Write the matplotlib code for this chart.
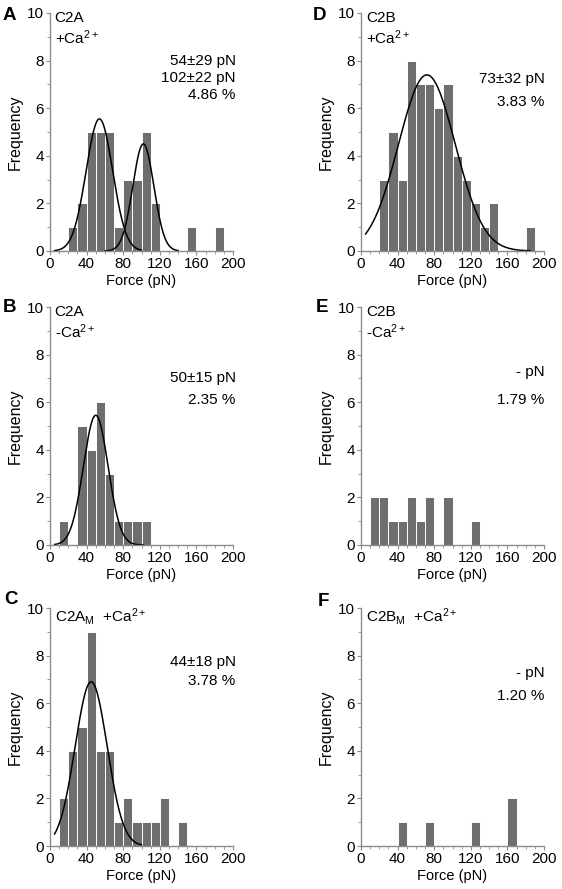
import numpy as np
import matplotlib.pyplot as plt
from matplotlib.ticker import MultipleLocator

plt.rcParams['font.family'] = ['Liberation Sans', 'DejaVu Sans']
plt.rcParams['mathtext.fontset'] = 'custom'
plt.rcParams['mathtext.rm'] = 'Liberation Sans'
plt.rcParams['mathtext.it'] = 'Liberation Sans:italic'

# histogram bins (left edges, pN) and counts per panel
bin_left = np.arange(0, 200, 10)
counts_A = [0, 0, 1, 2, 5, 5, 5, 1, 3, 3, 5, 2, 0, 0, 0, 1, 0, 0, 1, 0]
counts_B = [0, 1, 0, 5, 4, 6, 3, 1, 1, 1, 1, 0, 0, 0, 0, 0, 0, 0, 0, 0]
counts_C = [0, 2, 4, 5, 9, 4, 4, 1, 2, 1, 1, 1, 2, 0, 1, 0, 0, 0, 0, 0]
counts_D = [0, 0, 3, 5, 3, 8, 7, 7, 6, 7, 4, 3, 2, 1, 2, 0, 0, 0, 1, 0]
counts_E = [0, 2, 2, 1, 1, 2, 1, 2, 0, 2, 0, 0, 1, 0, 0, 0, 0, 0, 0, 0]
counts_F = [0, 0, 0, 0, 1, 0, 0, 1, 0, 0, 0, 0, 1, 0, 0, 0, 2, 0, 0, 0]

# gaussian fits: (centre, sigma, amplitude, x start, x end)
fits_A = [(54, 14.5, 5.55, 5, 100), (102, 11.5, 4.5, 60, 140)]
fits_B = [(50, 13.5, 5.45, 5, 102)]
fits_C = [(45, 17.5, 6.9, 5, 100)]
fits_D = [(72, 31, 7.4, 5, 185)]

names = ['C2A\n+Ca$^{\\mathrm{2+}}$', 'C2A\n-Ca$^{\\mathrm{2+}}$', 'C2A$_{\\mathrm{M}}$  +Ca$^{\\mathrm{2+}}$',
         'C2B\n+Ca$^{\\mathrm{2+}}$', 'C2B\n-Ca$^{\\mathrm{2+}}$', 'C2B$_{\\mathrm{M}}$  +Ca$^{\\mathrm{2+}}$']
notes = [['54±29 pN', '102±22 pN', '4.86 %'], ['50±15 pN', '2.35 %'], ['44±18 pN', '3.78 %'],
         ['73±32 pN', '3.83 %'], ['- pN', '1.79 %'], ['- pN', '1.20 %']]
note_y = [[8.0, 7.27, 6.55], [7.03, 6.11], [7.75, 6.92], [7.23, 6.26], [7.28, 6.11], [7.28, 6.29]]
letters = ['A', 'B', 'C', 'D', 'E', 'F']
all_counts = [counts_A, counts_B, counts_C, counts_D, counts_E, counts_F]
all_fits = [fits_A, fits_B, fits_C, fits_D, [], []]

W, H = 562, 889
fig = plt.figure(figsize=(W / 100, H / 100), dpi=100)

col_x = [50, 361]
row_top = [13, 307, 608]
ax_w, ax_h = 183, 238
letter_pos = [(3, 15), (3, 308), (4, 600), (313, 15), (316, 308), (318, 602)]

gray = '#8c8c8c'
for i in range(6):
    c, r = i // 3, i % 3
    x0 = col_x[c]
    y0 = row_top[r]
    ax = fig.add_axes([x0 / W, 1 - (y0 + ax_h) / H, ax_w / W, ax_h / H])
    ax.bar(bin_left, all_counts[i], width=10, align='edge', color='#6e6e6e',
           edgecolor='white', linewidth=0.7)
    for mu, sd, amp, xa, xb in all_fits[i]:
        xx = np.linspace(xa, xb, 200)
        ax.plot(xx, amp * np.exp(-(xx - mu) ** 2 / (2 * sd ** 2)), color='black', lw=1.1)
    ax.set_xlim(0, 200)
    ax.set_ylim(0, 10)
    ax.xaxis.set_major_locator(MultipleLocator(40))
    ax.xaxis.set_minor_locator(MultipleLocator(10))
    ax.yaxis.set_major_locator(MultipleLocator(2))
    ax.yaxis.set_minor_locator(MultipleLocator(1))
    for s in ['top', 'right']:
        ax.spines[s].set_visible(False)
    for s in ['left', 'bottom']:
        ax.spines[s].set_color(gray)
        ax.spines[s].set_linewidth(1.0)
    ax.tick_params(which='both', colors=gray, labelcolor='black', labelsize=11, pad=1.5)
    ax.tick_params(which='major', length=3)
    ax.tick_params(which='minor', length=2)
    ax.set_xlabel('Force (pN)', fontsize=10.5, labelpad=2)
    ax.set_ylabel('Frequency', fontsize=11.5, labelpad=3)
    ax.text(5 if c == 0 else 6, 10.1, names[i], fontsize=11, va='top', ha='left',
            linespacing=1.25)
    for t, yv in zip(notes[i], note_y[i]):
        ax.text(203 if c == 0 else 200.5, yv, t, fontsize=11, ha='right', va='center')
    lx, ly = letter_pos[i]
    fig.text(lx / W, 1 - ly / H, letters[i], fontsize=13.5, fontweight='bold',
             ha='left', va='center')

fig.savefig('out.png', dpi=100)
